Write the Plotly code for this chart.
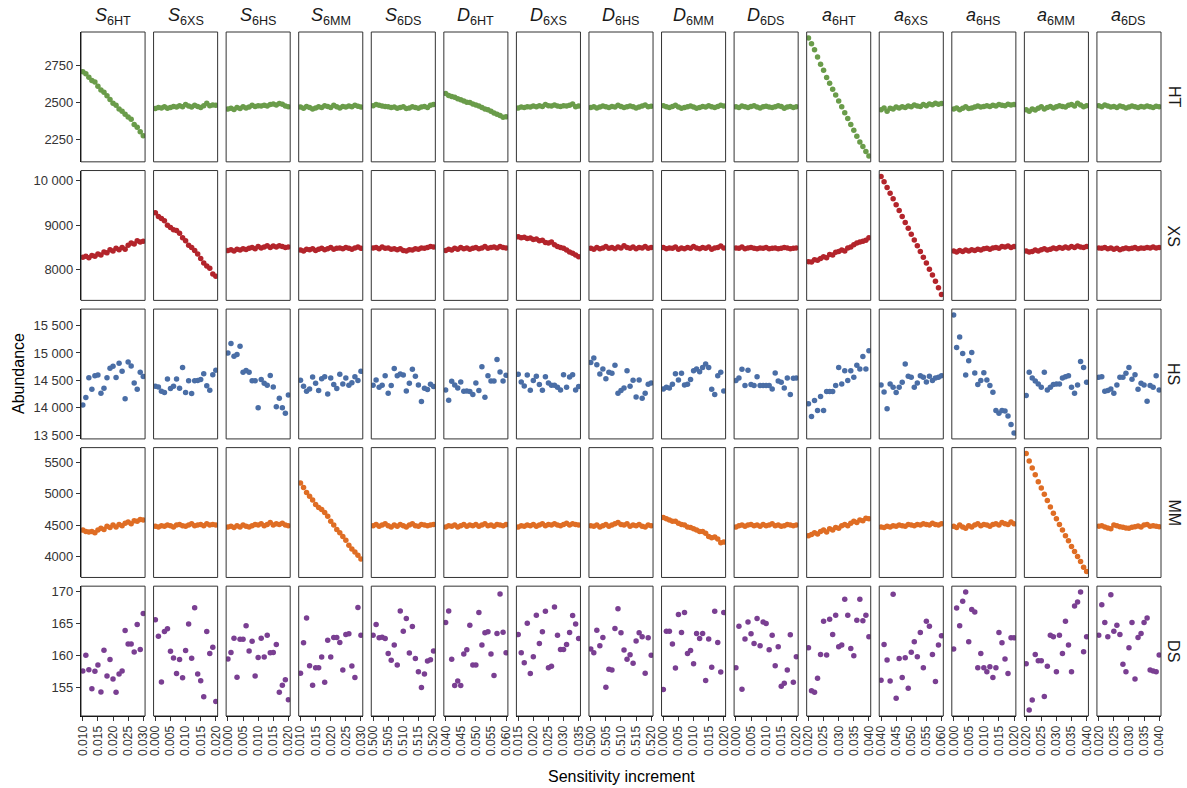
import plotly.graph_objects as go
from plotly.subplots import make_subplots

# ---------------- data ----------------
columns = ["S6HT", "S6XS", "S6HS", "S6MM", "S6DS",
           "D6HT", "D6XS", "D6HS", "D6MM", "D6DS",
           "a6HT", "a6XS", "a6HS", "a6MM", "a6DS"]
column_titles = ["<i>S</i><sub>6HT</sub>", "<i>S</i><sub>6XS</sub>", "<i>S</i><sub>6HS</sub>",
                 "<i>S</i><sub>6MM</sub>", "<i>S</i><sub>6DS</sub>",
                 "<i>D</i><sub>6HT</sub>", "<i>D</i><sub>6XS</sub>", "<i>D</i><sub>6HS</sub>",
                 "<i>D</i><sub>6MM</sub>", "<i>D</i><sub>6DS</sub>",
                 "<i>a</i><sub>6HT</sub>", "<i>a</i><sub>6XS</sub>", "<i>a</i><sub>6HS</sub>",
                 "<i>a</i><sub>6MM</sub>", "<i>a</i><sub>6DS</sub>"]
rows = ["HT", "XS", "HS", "MM", "DS"]

# start of the sensitivity increment range per column
x_start = [0.010, 0.000, 0.000, 0.010, 0.500,
           0.040, 0.015, 0.500, 0.000, 0.000,
           0.020, 0.040, 0.000, 0.020, 0.020]
x_offsets = [0.000, 0.001, 0.002, 0.003, 0.004, 0.005, 0.006, 0.007, 0.008, 0.009, 0.010,
             0.011, 0.012, 0.013, 0.014, 0.015, 0.016, 0.017, 0.018, 0.019, 0.020]

# y tick values / labels per row
ticks_HT = [2250, 2500, 2750]
ticklabels_HT = ["2250", "2500", "2750"]
ticks_XS = [8000, 9000, 10000]
ticklabels_XS = ["8000", "9000", "10 000"]
ticks_HS = [13500, 14000, 14500, 15000, 15500]
ticklabels_HS = ["13 500", "14 000", "14 500", "15 000", "15 500"]
ticks_MM = [4000, 4500, 5000, 5500]
ticklabels_MM = ["4000", "4500", "5000", "5500"]
ticks_DS = [155, 160, 165, 170]
ticklabels_DS = ["155", "160", "165", "170"]

# ---- HT row ----
ht_S6HT = [2710, 2695, 2672, 2650, 2640, 2610, 2585, 2570, 2545, 2520, 2495, 2480, 2455, 2440, 2420, 2400, 2385, 2350, 2330, 2300, 2272]
ht_S6XS = [2458, 2465, 2462, 2470, 2460, 2466, 2472, 2468, 2478, 2470, 2485, 2475, 2468, 2480, 2472, 2465, 2478, 2495, 2478, 2482, 2480]
ht_S6HS = [2455, 2460, 2452, 2465, 2458, 2470, 2462, 2468, 2480, 2472, 2478, 2475, 2480, 2476, 2485, 2490, 2482, 2492, 2488, 2475, 2470]
ht_S6MM = [2468, 2460, 2472, 2465, 2455, 2462, 2470, 2466, 2478, 2472, 2465, 2480, 2470, 2462, 2472, 2468, 2475, 2470, 2480, 2474, 2468]
ht_S6DS = [2478, 2485, 2480, 2475, 2472, 2470, 2466, 2468, 2460, 2465, 2470, 2458, 2462, 2470, 2466, 2460, 2468, 2472, 2465, 2480, 2485]
ht_D6HT = [2560, 2548, 2540, 2535, 2525, 2518, 2510, 2502, 2500, 2490, 2482, 2475, 2465, 2455, 2450, 2440, 2428, 2420, 2410, 2398, 2402]
ht_D6XS = [2462, 2468, 2465, 2470, 2468, 2475, 2470, 2478, 2472, 2485, 2478, 2475, 2482, 2476, 2472, 2478, 2475, 2480, 2490, 2470, 2475]
ht_D6HS = [2465, 2470, 2462, 2468, 2475, 2470, 2466, 2472, 2468, 2480, 2472, 2465, 2470, 2476, 2470, 2462, 2468, 2475, 2482, 2470, 2474]
ht_D6MM = [2478, 2470, 2465, 2472, 2480, 2468, 2460, 2465, 2470, 2475, 2468, 2460, 2466, 2472, 2468, 2478, 2470, 2465, 2472, 2480, 2476]
ht_D6DS = [2470, 2466, 2475, 2470, 2465, 2472, 2478, 2468, 2462, 2470, 2474, 2468, 2465, 2470, 2478, 2472, 2460, 2468, 2472, 2466, 2470]
ht_a6HT = [2940, 2900, 2860, 2810, 2760, 2720, 2670, 2630, 2590, 2550, 2510, 2470, 2430, 2390, 2350, 2310, 2270, 2230, 2200, 2165, 2135]
ht_a6XS = [2450, 2462, 2440, 2460, 2455, 2468, 2462, 2470, 2466, 2475, 2470, 2482, 2476, 2472, 2485, 2478, 2490, 2484, 2495, 2488, 2492]
ht_a6HS = [2455, 2462, 2450, 2460, 2470, 2458, 2462, 2468, 2475, 2468, 2472, 2478, 2472, 2480, 2476, 2485, 2480, 2478, 2488, 2482, 2485]
ht_a6MM = [2450, 2440, 2455, 2448, 2460, 2470, 2455, 2465, 2472, 2462, 2470, 2478, 2472, 2468, 2480, 2485, 2476, 2495, 2482, 2470, 2478]
ht_a6DS = [2478, 2470, 2482, 2475, 2468, 2472, 2465, 2475, 2470, 2462, 2468, 2475, 2470, 2465, 2472, 2468, 2475, 2470, 2466, 2474, 2470]

# ---- XS row ----
xs_S6HT = [8280, 8300, 8270, 8320, 8300, 8350, 8330, 8400, 8380, 8450, 8420, 8480, 8450, 8500, 8460, 8550, 8600, 8580, 8650, 8620, 8640]
xs_S6XS = [9280, 9200, 9150, 9100, 9000, 8950, 8900, 8880, 8820, 8720, 8650, 8550, 8500, 8430, 8350, 8250, 8150, 8080, 8030, 7900, 7850]
xs_S6HS = [8430, 8450, 8420, 8460, 8440, 8470, 8455, 8480, 8500, 8470, 8520, 8490, 8510, 8540, 8500, 8530, 8510, 8540, 8520, 8500, 8510]
xs_S6MM = [8440, 8420, 8460, 8450, 8470, 8430, 8460, 8480, 8450, 8470, 8500, 8460, 8480, 8490, 8470, 8500, 8480, 8460, 8490, 8510, 8480]
xs_S6DS = [8490, 8500, 8470, 8510, 8480, 8490, 8460, 8470, 8450, 8470, 8430, 8420, 8450, 8440, 8470, 8460, 8490, 8480, 8500, 8520, 8510]
xs_D6HT = [8430, 8460, 8440, 8480, 8460, 8500, 8470, 8490, 8460, 8480, 8500, 8470, 8490, 8520, 8480, 8500, 8510, 8490, 8520, 8500, 8490]
xs_D6XS = [8740, 8720, 8730, 8700, 8710, 8680, 8690, 8650, 8660, 8610, 8600, 8620, 8560, 8520, 8500, 8480, 8440, 8400, 8370, 8330, 8290]
xs_D6HS = [8480, 8460, 8500, 8470, 8490, 8520, 8480, 8500, 8470, 8510, 8490, 8540, 8500, 8480, 8510, 8470, 8500, 8490, 8520, 8480, 8500]
xs_D6MM = [8500, 8470, 8490, 8480, 8510, 8460, 8490, 8470, 8500, 8480, 8520, 8490, 8470, 8500, 8480, 8510, 8460, 8490, 8500, 8530, 8490]
xs_D6DS = [8490, 8480, 8510, 8470, 8490, 8500, 8480, 8470, 8490, 8480, 8500, 8470, 8480, 8490, 8470, 8480, 8500, 8490, 8470, 8480, 8490]
xs_a6HT = [8180, 8170, 8220, 8210, 8250, 8290, 8270, 8340, 8330, 8390, 8410, 8440, 8420, 8490, 8510, 8560, 8600, 8620, 8640, 8660, 8720]
xs_a6XS = [10100, 9980, 9850, 9720, 9600, 9460, 9330, 9200, 9060, 8930, 8800, 8670, 8540, 8410, 8280, 8150, 8010, 7880, 7740, 7590, 7440]
xs_a6HS = [8420, 8400, 8430, 8410, 8440, 8420, 8450, 8430, 8460, 8440, 8470, 8480, 8460, 8490, 8500, 8480, 8520, 8510, 8530, 8500, 8520]
xs_a6MM = [8420, 8400, 8410, 8440, 8420, 8450, 8470, 8440, 8460, 8490, 8470, 8500, 8480, 8510, 8490, 8520, 8500, 8530, 8510, 8500, 8520]
xs_a6DS = [8490, 8480, 8500, 8470, 8490, 8460, 8480, 8450, 8470, 8490, 8470, 8480, 8500, 8470, 8490, 8480, 8500, 8490, 8510, 8490, 8500]

# ---- HS row ----
hs_S6HT = [14050, 14189, 14549, 14338, 14584, 14596, 14266, 14356, 14549, 14722, 14758, 14554, 14812, 14668, 14164, 14836, 14764, 14452, 14338, 14650, 14572]
hs_S6XS = [14392, 14380, 14302, 14278, 14524, 14350, 14392, 14524, 14356, 14734, 14278, 14494, 14260, 14494, 14500, 14518, 14620, 14404, 14320, 14602, 14686]
hs_S6HS = [14998, 15171, 14938, 14974, 15124, 14650, 14680, 14650, 14494, 14494, 14002, 14518, 14446, 14410, 14590, 14380, 14020, 14176, 14002, 13901, 14236]
hs_S6MM = [14502, 14393, 14302, 14344, 14562, 14447, 14314, 14532, 14568, 14254, 14544, 14423, 14350, 14610, 14435, 14544, 14411, 14459, 14568, 14496, 14665]
hs_S6DS = [14411, 14508, 14375, 14411, 14586, 14266, 14405, 14719, 14586, 14616, 14598, 14308, 14447, 14701, 14574, 14417, 14115, 14357, 14332, 14429, 14387]
hs_D6HT = [14326, 14139, 14484, 14417, 14363, 14472, 14302, 14308, 14296, 14242, 14453, 14314, 14749, 14193, 14586, 14490, 14490, 14882, 14653, 14490, 14592]
hs_D6XS = [14610, 14471, 14399, 14598, 14320, 14496, 14574, 14423, 14320, 14568, 14453, 14411, 14411, 14375, 14326, 14604, 14375, 14562, 14604, 14326, 14387]
hs_D6HS = [14828, 14907, 14786, 14616, 14707, 14532, 14647, 14629, 14774, 14266, 14314, 14363, 14677, 14393, 14502, 14199, 14508, 14175, 14266, 14429, 14453]
hs_D6MM = [14344, 14375, 14363, 14429, 14622, 14508, 14629, 14417, 14429, 14514, 14677, 14707, 14659, 14737, 14798, 14737, 14338, 14242, 14586, 14647, 14308]
hs_D6DS = [14496, 14544, 14701, 14405, 14683, 14423, 14405, 14568, 14405, 14405, 14405, 14405, 14344, 14635, 14490, 14465, 14363, 14544, 14242, 14538, 14544]
hs_a6HT = [14073, 13843, 14133, 13952, 14206, 13952, 14296, 14296, 14296, 14405, 14737, 14435, 14677, 14496, 14677, 14556, 14774, 14707, 14937, 14707, 15040]
hs_a6XS = [14417, 14290, 13982, 14435, 14375, 14278, 14375, 14465, 14798, 14574, 14556, 14375, 14453, 14586, 14556, 14471, 14574, 14496, 14544, 14556, 14586]
hs_a6HS = [15692, 15100, 15293, 14991, 14598, 14858, 15009, 14635, 14423, 14496, 14641, 14508, 14405, 14284, 13952, 13903, 13952, 13940, 13849, 13698, 13541]
hs_a6MM = [14224, 14647, 14544, 14490, 14435, 14375, 14647, 14326, 14375, 14423, 14435, 14435, 14544, 14568, 14586, 14375, 14266, 14417, 14846, 14737, 14465]
hs_a6DS = [14556, 14568, 14302, 14314, 14344, 14266, 14417, 14556, 14556, 14629, 14737, 14520, 14604, 14338, 14447, 14417, 14121, 14405, 14375, 14586, 14326]

# ---- MM row ----
mm_S6HT = [4420, 4400, 4390, 4400, 4380, 4420, 4450, 4430, 4480, 4460, 4500, 4470, 4510, 4490, 4530, 4550, 4520, 4570, 4560, 4590, 4580]
mm_S6XS = [4480, 4470, 4490, 4480, 4500, 4490, 4470, 4500, 4510, 4490, 4480, 4500, 4520, 4490, 4500, 4510, 4490, 4520, 4500, 4510, 4500]
mm_S6HS = [4470, 4480, 4460, 4490, 4470, 4500, 4480, 4470, 4490, 4510, 4500, 4520, 4490, 4510, 4540, 4500, 4520, 4510, 4530, 4500, 4490]
mm_S6MM = [5170, 5100, 5020, 4960, 4900, 4830, 4780, 4750, 4700, 4640, 4560, 4500, 4430, 4380, 4320, 4260, 4180, 4120, 4070, 4020, 3960]
mm_S6DS = [4490, 4510, 4480, 4500, 4520, 4490, 4470, 4500, 4480, 4510, 4490, 4470, 4500, 4520, 4490, 4480, 4510, 4500, 4490, 4500, 4510]
mm_D6HT = [4470, 4490, 4480, 4500, 4470, 4490, 4510, 4480, 4500, 4490, 4510, 4480, 4500, 4520, 4490, 4500, 4480, 4510, 4500, 4490, 4510]
mm_D6XS = [4470, 4490, 4480, 4500, 4490, 4510, 4480, 4500, 4520, 4490, 4510, 4500, 4520, 4500, 4490, 4510, 4530, 4500, 4520, 4510, 4500]
mm_D6HS = [4490, 4480, 4500, 4470, 4490, 4510, 4480, 4500, 4520, 4540, 4510, 4500, 4520, 4480, 4500, 4490, 4510, 4480, 4470, 4500, 4490]
mm_D6MM = [4620, 4600, 4580, 4560, 4560, 4530, 4510, 4500, 4470, 4460, 4440, 4420, 4400, 4400, 4370, 4320, 4300, 4310, 4280, 4220, 4230]
mm_D6DS = [4470, 4490, 4500, 4480, 4500, 4510, 4490, 4500, 4480, 4510, 4490, 4500, 4520, 4490, 4500, 4480, 4490, 4510, 4500, 4490, 4500]
mm_a6HT = [4330, 4350, 4380, 4360, 4400, 4420, 4390, 4440, 4420, 4460, 4450, 4490, 4510, 4490, 4530, 4560, 4540, 4580, 4570, 4610, 4600]
mm_a6XS = [4470, 4460, 4480, 4470, 4490, 4480, 4500, 4490, 4480, 4510, 4500, 4490, 4510, 4500, 4520, 4510, 4500, 4530, 4510, 4500, 4520]
mm_a6HS = [4480, 4460, 4500, 4470, 4450, 4490, 4470, 4500, 4520, 4490, 4510, 4500, 4480, 4510, 4520, 4500, 4540, 4520, 4510, 4550, 4520]
mm_a6MM = [5640, 5520, 5410, 5300, 5190, 5090, 4990, 4890, 4790, 4690, 4600, 4510, 4420, 4330, 4250, 4160, 4080, 4000, 3920, 3830, 3760]
mm_a6DS = [4480, 4490, 4470, 4455, 4440, 4500, 4490, 4475, 4465, 4455, 4450, 4465, 4475, 4485, 4470, 4500, 4510, 4480, 4490, 4480, 4475]

# ---- DS row ----
ds_S6HT = [157.59, 160.05, 157.8, 154.83, 157.54, 158.53, 154.3, 160.83, 156.8, 159.37, 156.33, 154.25, 157.12, 157.59, 163.92, 161.82, 161.82, 160.57, 164.86, 160.93, 166.57]
ds_S6XS = [165.58, 163.03, 155.87, 163.76, 164.17, 160.67, 159.62, 157.18, 159.37, 156.55, 160.78, 164.95, 159.58, 167.46, 157.12, 156.08, 153.57, 163.76, 160.31, 161.3, 152.84]
ds_S6HS = [159.47, 160.47, 162.71, 156.6, 162.55, 162.55, 164.64, 160.73, 162.24, 156.8, 159.68, 162.71, 159.79, 163.18, 160.42, 160.47, 161.72, 154.25, 155.35, 156.24, 153.1]
ds_S6MM = [157.23, 162.0, 165.88, 158.42, 155.37, 158.11, 158.11, 159.77, 155.83, 162.41, 159.77, 162.83, 162.83, 162.05, 157.75, 163.29, 163.4, 158.37, 156.56, 167.49, 163.19]
ds_S6DS = [163.19, 164.85, 162.77, 162.88, 162.67, 160.34, 159.25, 161.64, 158.53, 166.97, 163.81, 165.78, 160.39, 164.54, 159.56, 157.49, 155.0, 157.13, 159.15, 159.36, 160.7]
ds_D6HT = [165.16, 166.97, 159.41, 155.32, 156.04, 155.32, 160.24, 160.91, 164.74, 158.53, 158.53, 166.71, 161.64, 163.55, 163.71, 160.24, 156.87, 163.45, 169.61, 163.66, 160.44]
ds_D6XS = [163.29, 160.44, 158.89, 165.05, 157.18, 159.82, 166.3, 161.89, 163.71, 166.92, 158.11, 158.32, 167.59, 163.19, 160.96, 160.96, 161.74, 163.6, 166.25, 164.95, 162.67]
ds_D6HS = [161.01, 160.44, 163.97, 161.53, 162.83, 155.06, 157.85, 157.75, 164.23, 167.33, 163.55, 160.86, 159.41, 160.13, 158.79, 162.26, 163.55, 162.93, 157.23, 162.77, 160.03]
ds_D6MM = [154.69, 163.81, 163.81, 161.79, 158.06, 166.4, 163.6, 166.71, 160.34, 160.81, 158.73, 163.45, 162.67, 163.45, 156.09, 162.57, 158.16, 166.92, 162.05, 157.44, 166.71]
ds_D6DS = [158.11, 164.59, 154.75, 162.57, 165.26, 163.4, 161.89, 165.78, 161.53, 165.26, 165.0, 160.91, 163.19, 158.42, 161.38, 155.21, 155.68, 157.75, 163.24, 155.83, 159.82]
ds_a6HT = [161.22, 154.49, 154.28, 156.46, 160.18, 165.36, 160.08, 165.68, 163.29, 166.3, 161.38, 161.64, 168.78, 166.3, 161.12, 159.98, 165.52, 168.78, 165.42, 166.3, 162.93]
ds_a6XS = [156.14, 161.74, 159.3, 156.04, 169.56, 153.35, 159.56, 156.56, 159.67, 154.9, 160.5, 162.15, 159.82, 163.6, 158.11, 165.36, 164.59, 160.18, 155.94, 161.64, 163.09]
ds_a6HS = [161.01, 167.44, 164.64, 168.47, 169.92, 162.15, 167.18, 166.82, 158.11, 160.34, 158.11, 157.49, 158.27, 156.56, 158.11, 163.6, 161.99, 159.46, 157.18, 162.77, 162.77]
ds_a6MM = [158.73, 151.48, 153.04, 160.18, 159.2, 159.2, 153.61, 158.32, 163.19, 162.93, 157.49, 163.19, 160.34, 165.36, 161.64, 157.49, 167.75, 168.37, 169.92, 160.6, 162.93]
ds_a6DS = [163.19, 167.95, 165.16, 162.93, 169.51, 163.81, 164.74, 163.29, 158.63, 157.49, 161.22, 165.16, 156.35, 162.83, 163.45, 165.16, 165.88, 157.75, 157.59, 157.49, 160.08]

# ---------------- assembly ----------------
row_series = {
    "HT": [ht_S6HT, ht_S6XS, ht_S6HS, ht_S6MM, ht_S6DS, ht_D6HT, ht_D6XS, ht_D6HS, ht_D6MM, ht_D6DS, ht_a6HT, ht_a6XS, ht_a6HS, ht_a6MM, ht_a6DS],
    "XS": [xs_S6HT, xs_S6XS, xs_S6HS, xs_S6MM, xs_S6DS, xs_D6HT, xs_D6XS, xs_D6HS, xs_D6MM, xs_D6DS, xs_a6HT, xs_a6XS, xs_a6HS, xs_a6MM, xs_a6DS],
    "HS": [hs_S6HT, hs_S6XS, hs_S6HS, hs_S6MM, hs_S6DS, hs_D6HT, hs_D6XS, hs_D6HS, hs_D6MM, hs_D6DS, hs_a6HT, hs_a6XS, hs_a6HS, hs_a6MM, hs_a6DS],
    "MM": [mm_S6HT, mm_S6XS, mm_S6HS, mm_S6MM, mm_S6DS, mm_D6HT, mm_D6XS, mm_D6HS, mm_D6MM, mm_D6DS, mm_a6HT, mm_a6XS, mm_a6HS, mm_a6MM, mm_a6DS],
    "DS": [ds_S6HT, ds_S6XS, ds_S6HS, ds_S6MM, ds_S6DS, ds_D6HT, ds_D6XS, ds_D6HS, ds_D6MM, ds_D6DS, ds_a6HT, ds_a6XS, ds_a6HS, ds_a6MM, ds_a6DS],
}
row_ticks = {"HT": (ticks_HT, ticklabels_HT), "XS": (ticks_XS, ticklabels_XS),
             "HS": (ticks_HS, ticklabels_HS), "MM": (ticks_MM, ticklabels_MM),
             "DS": (ticks_DS, ticklabels_DS)}
row_colors = {"HT": "#6a9c4a", "XS": "#b3242b", "HS": "#4a6ea6", "MM": "#df6d24", "DS": "#7a3f92"}

FONT = "Liberation Sans, Arial, Helvetica, sans-serif"
NR, NC = 5, 15
W, H = 1187, 788
ML, MR, MT, MB = 81, 26, 32, 72

fig = make_subplots(rows=NR, cols=NC,
                    horizontal_spacing=8.5 / (W - ML - MR),
                    vertical_spacing=8.7 / (H - MT - MB))

for r, rname in enumerate(rows):
    allv = [v for s in row_series[rname] for v in s]
    lo, hi = min(allv), max(allv)
    pad = 0.05 * (hi - lo)
    yrange = [lo - pad, hi + pad]
    tv, tt = row_ticks[rname]
    for c in range(NC):
        xs = [x_start[c] + o for o in x_offsets]
        fig.add_trace(go.Scatter(
            x=xs, y=row_series[rname][c], mode="markers",
            marker=dict(size=5.5, color=row_colors[rname], line=dict(width=0)),
            showlegend=False, hoverinfo="x+y"),
            row=r + 1, col=c + 1)
        xpad = 0.0006
        fig.update_xaxes(
            range=[x_start[c] - xpad, x_start[c] + x_offsets[-1] + xpad],
            tick0=x_start[c], dtick=0.005, tickformat=".3f",
            tickangle=-90, showgrid=False, zeroline=False,
            showticklabels=(r == NR - 1),
            ticks="outside" if r == NR - 1 else "",
            ticklen=4, tickwidth=1, tickcolor="#333333",
            showline=(r == NR - 1), linecolor="#000000", linewidth=1.2,
            tickfont=dict(size=12, color="#333333", family=FONT),
            row=r + 1, col=c + 1)
        fig.update_yaxes(
            range=yrange, tickvals=tv, ticktext=tt,
            showgrid=False, zeroline=False,
            showticklabels=(c == 0),
            ticks="outside" if c == 0 else "",
            ticklen=4, tickwidth=1, tickcolor="#333333",
            showline=(c == 0), linecolor="#000000", linewidth=1.2,
            tickfont=dict(size=13, color="#333333", family=FONT),
            row=r + 1, col=c + 1)

# panel borders
n = 0
for r in range(NR):
    for c in range(NC):
        n += 1
        sfx = "" if n == 1 else str(n)
        fig.add_shape(type="rect", xref=f"x{sfx} domain", yref=f"y{sfx} domain",
                      x0=0, x1=1, y0=0, y1=1,
                      line=dict(color="#333333", width=1), fillcolor="rgba(0,0,0,0)",
                      layer="above")

# strip labels (columns)
for c in range(NC):
    ax = fig.layout["xaxis" if c == 0 else f"xaxis{c + 1}"]
    d = ax.domain
    fig.add_annotation(x=(d[0] + d[1]) / 2, y=1.0, xref="paper", yref="paper",
                       yshift=16, text=column_titles[c], showarrow=False,
                       font=dict(size=18, color="#1a1a1a", family=FONT),
                       xanchor="center", yanchor="middle")

# strip labels (rows)
for r in range(NR):
    ay = fig.layout["yaxis" if r == 0 else f"yaxis{r * NC + 1}"]
    d = ay.domain
    fig.add_annotation(x=1.0, y=(d[0] + d[1]) / 2, xref="paper", yref="paper",
                       xshift=13, text=rows[r], showarrow=False, textangle=90,
                       font=dict(size=16, color="#1a1a1a", family=FONT),
                       xanchor="center", yanchor="middle")

# axis titles
fig.add_annotation(x=0.5, y=0, xref="paper", yref="paper", yshift=-60,
                   text="Sensitivity increment", showarrow=False,
                   font=dict(size=16, color="#000000", family=FONT),
                   xanchor="center", yanchor="middle")
fig.add_annotation(x=0, y=0.5, xref="paper", yref="paper", xshift=-63,
                   text="Abundance", showarrow=False, textangle=-90,
                   font=dict(size=16, color="#000000", family=FONT),
                   xanchor="center", yanchor="middle")

fig.update_layout(
    width=W, height=H,
    margin=dict(l=ML, r=MR, t=MT, b=MB),
    paper_bgcolor="white", plot_bgcolor="white",
    font=dict(family=FONT),
)

fig.write_html("out.html")
